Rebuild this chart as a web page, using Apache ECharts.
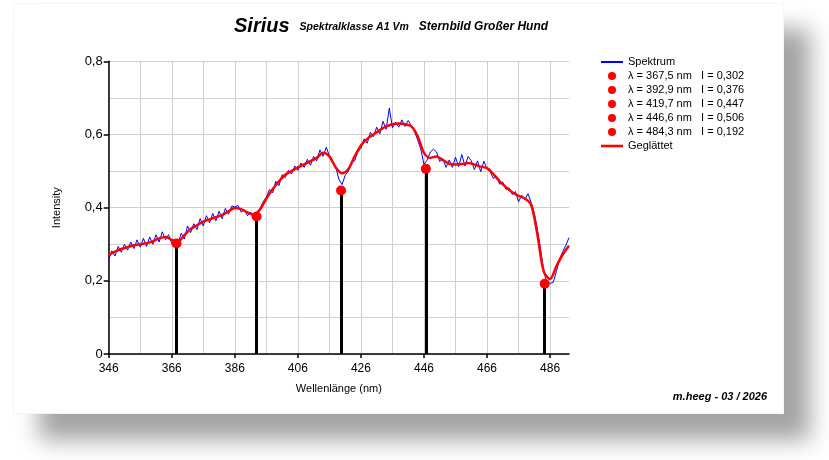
<!DOCTYPE html>
<html>
<head>
<meta charset="utf-8">
<script src="https://cdn.jsdelivr.net/npm/echarts@6/dist/echarts.min.js"></script>
<style>
  html, body { margin: 0; padding: 0; background: #fff; }
  #card {
    position: absolute; left: 13px; top: 3px; width: 769px; height: 409px;
    background: #fff; border: 1px solid #f6f6f6;
    box-shadow: 26px 26px 22px rgba(0, 0, 0, 0.36);
  }
  #chart { position: absolute; left: 0; top: 0; width: 829px; height: 460px; }
</style>
</head>
<body>
<div id="card"></div>
<div id="chart"></div>
<script>
// Spektrum: Messwerte ab 346 nm in 1-nm-Schritten
const spectrumStart = 346
const spectrumStep = 1
const spectrum = [
  0.258, 0.282, 0.268, 0.294, 0.278, 0.300, 0.284, 0.306, 0.288, 0.312,
  0.292, 0.316, 0.294, 0.320, 0.300, 0.326, 0.306, 0.334, 0.312, 0.326,
  0.302, 0.298, 0.302, 0.330, 0.314, 0.350, 0.332, 0.356, 0.340, 0.370,
  0.350, 0.378, 0.358, 0.384, 0.364, 0.390, 0.370, 0.398, 0.382, 0.404,
  0.402, 0.406, 0.388, 0.394, 0.378, 0.388, 0.372, 0.388, 0.398, 0.416,
  0.428, 0.450, 0.440, 0.472, 0.460, 0.490, 0.482, 0.502, 0.492, 0.514,
  0.502, 0.522, 0.510, 0.532, 0.516, 0.540, 0.528, 0.558, 0.540, 0.565,
  0.542, 0.528, 0.512, 0.478, 0.463, 0.488, 0.500, 0.524, 0.528, 0.552,
  0.562, 0.588, 0.576, 0.606, 0.594, 0.620, 0.602, 0.636, 0.614, 0.672,
  0.618, 0.634, 0.620, 0.640, 0.622, 0.638, 0.624, 0.608, 0.585, 0.560,
  0.518, 0.530, 0.552, 0.560, 0.552, 0.526, 0.534, 0.510, 0.530, 0.510,
  0.538, 0.512, 0.545, 0.514, 0.540, 0.528, 0.504, 0.528, 0.498, 0.527,
  0.506, 0.498, 0.480, 0.486, 0.464, 0.470, 0.450, 0.454, 0.436, 0.444,
  0.416, 0.434, 0.422, 0.438, 0.414, 0.385, 0.340, 0.285, 0.225, 0.194,
  0.193, 0.196, 0.225, 0.258, 0.280, 0.297, 0.318
]

// Geglättet: ab 346 nm in 2-nm-Schritten
const smoothStart = 346
const smoothStep = 2
const smoothed = [
  0.271, 0.280, 0.287, 0.292, 0.297, 0.300, 0.303, 0.308, 0.316, 0.320,
  0.312, 0.308, 0.325, 0.342, 0.352, 0.362, 0.368, 0.374, 0.380, 0.390,
  0.399, 0.396, 0.387, 0.381, 0.395, 0.425, 0.450, 0.472, 0.490, 0.500,
  0.510, 0.518, 0.527, 0.536, 0.550, 0.540, 0.510, 0.494, 0.505, 0.540,
  0.570, 0.588, 0.600, 0.612, 0.622, 0.628, 0.630, 0.628, 0.622, 0.595,
  0.550, 0.536, 0.540, 0.530, 0.520, 0.518, 0.519, 0.522, 0.518, 0.512,
  0.508, 0.492, 0.472, 0.456, 0.442, 0.432, 0.425, 0.408, 0.325, 0.225,
  0.205, 0.240, 0.272, 0.296
]

// Linien (Minima)
const peakLambda = [367.5, 392.9, 419.7, 446.6, 484.3]
const peakIntensity = [0.302, 0.376, 0.447, 0.506, 0.192]

const font = "'Liberation Sans', Arial, sans-serif"

function de(v, d) {
  return v.toFixed(d).replace('.', ',')
}

const charts = echarts.init(document.getElementById('chart'))

const series = [
  {
    name: 'Spektrum',
    type: 'line',
    symbol: 'none',
    z: 2,
    lineStyle: { color: '#0000ff', width: 1 },
    itemStyle: { color: '#0000ff' },
    data: spectrum.map((v, i) => [spectrumStart + i * spectrumStep, v])
  }
]
const legendData = [{ name: 'Spektrum', icon: 'path://M0,0H22V2H0Z' }]

peakLambda.forEach((l, i) => {
  const name = 'λ = ' + de(l, 1) + ' nm   I = ' + de(peakIntensity[i], 3)
  legendData.push({ name: name, icon: 'circle' })
  series.push({
    name: name,
    type: 'scatter',
    symbol: 'circle',
    symbolSize: 10,
    z: 5,
    itemStyle: { color: '#ff0000', opacity: 1 },
    data: [[l, peakIntensity[i]]],
    markLine: {
      silent: true,
      symbol: 'none',
      animation: false,
      label: { show: false },
      lineStyle: { color: '#000', width: 3, type: 'solid', opacity: 1 },
      emphasis: { disabled: true },
      data: [[{ coord: [l, 0] }, { coord: [l, peakIntensity[i]] }]]
    }
  })
})

series.push({
  name: 'Geglättet',
  type: 'line',
  symbol: 'none',
  smooth: 0.3,
  z: 3,
  lineStyle: { color: '#ff0000', width: 2.5 },
  itemStyle: { color: '#ff0000' },
  data: smoothed.map((v, i) => [smoothStart + i * smoothStep, v])
})
legendData.push({ name: 'Geglättet', icon: 'path://M0,0H22V2.6H0Z' })

const gridLine = { color: '#d0d0d0', width: 1 }

charts.setOption({
  animation: false,
  textStyle: { fontFamily: font },
  title: {
    left: 229,
    top: 11,
    text: '{a|Sirius}  {b|Spektralklasse A1 Vm}  {c|Sternbild Großer Hund}',
    textStyle: {
      rich: {
        a: { fontFamily: font, fontSize: 20, fontWeight: 'bold', fontStyle: 'italic', color: '#000' },
        b: { fontFamily: font, fontSize: 10.5, fontStyle: 'italic', color: '#000', padding: [3, 0, 0, 0] },
        c: { fontFamily: font, fontSize: 12, fontStyle: 'italic', color: '#000', padding: [2, 0, 0, 0] }
      }
    }
  },
  legend: {
    orient: 'vertical',
    left: 596,
    top: 50,
    itemWidth: 22,
    itemHeight: 8,
    itemGap: 0,
    selectedMode: false,
    textStyle: { fontFamily: font, fontSize: 11, color: '#000', lineHeight: 14 },
    data: legendData
  },
  grid: { left: 108.7, right: 260, top: 61.3, bottom: 106 },
  xAxis: [
    {
      type: 'value',
      min: 346,
      max: 492,
      interval: 20,
      name: 'Wellenlänge (nm)',
      nameLocation: 'middle',
      nameGap: 29,
      nameTextStyle: { fontFamily: font, fontSize: 11, color: '#000' },
      axisLine: { lineStyle: { color: '#000', width: 1.5 } },
      axisTick: { show: true, length: 4, lineStyle: { color: '#000', width: 1.5 } },
      axisLabel: { color: '#000', fontSize: 12, fontFamily: font, margin: 9, showMaxLabel: false },
      splitLine: { show: false },
      z: 3
    },
    {
      // nur Gitterlinien alle 10 nm
      type: 'value',
      min: 346,
      max: 492,
      interval: 10,
      position: 'bottom',
      axisLine: { show: false },
      axisTick: { show: false },
      axisLabel: { show: false },
      splitLine: { show: true, showMaxLine: false, lineStyle: gridLine },
      z: 0
    }
  ],
  yAxis: {
    type: 'value',
    min: 0,
    max: 0.8,
    interval: 0.2,
    name: 'Intensity',
    nameLocation: 'middle',
    nameGap: 46,
    nameTextStyle: { fontFamily: font, fontSize: 11, color: '#000' },
    axisLine: { show: true, lineStyle: { color: '#000', width: 1.5 } },
    axisTick: { show: true, length: 5, lineStyle: { color: '#000', width: 1.5 } },
    axisLabel: {
      color: '#000', fontSize: 13, fontFamily: font, margin: 6,
      formatter: v => (v === 0 ? '0' : de(v, 1))
    },
    splitLine: { show: true, lineStyle: gridLine },
    minorTick: { show: false, splitNumber: 2 },
    minorSplitLine: { show: true, lineStyle: gridLine }
  },
  graphic: [
    {
      type: 'text',
      right: 62,
      top: 391,
      style: {
        text: 'm.heeg - 03 / 2026',
        font: 'italic bold 11px ' + font,
        fill: '#000'
      }
    }
  ],
  series: series
})
</script>
</body>
</html>
